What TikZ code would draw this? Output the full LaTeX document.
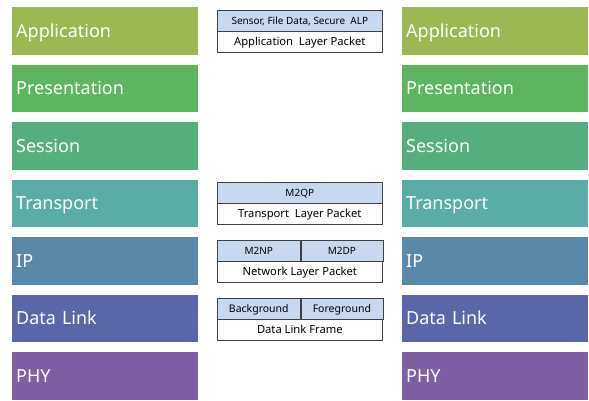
\documentclass[tikz,border=0pt]{standalone}
\usepackage{fontspec}
\setmainfont{Noto Sans}
\usetikzlibrary{positioning}

\definecolor{appcol}{HTML}{9BB852}
\definecolor{prescol}{HTML}{5DB55F}
\definecolor{sesscol}{HTML}{56AD7E}
\definecolor{transcol}{HTML}{5AADA5}
\definecolor{ipcol}{HTML}{5A88A8}
\definecolor{dlcol}{HTML}{5B66A8}
\definecolor{phycol}{HTML}{7E5FA3}
\definecolor{headcol}{HTML}{C8D8F0}
\definecolor{edgecol}{HTML}{404040}

\tikzset{
    layer/.style={rectangle, anchor=north west, minimum width=186pt, minimum height=47.5pt,
        inner sep=4pt, text width=178pt, align=left, text=white,
        text height=12.5pt, text depth=0pt,
        font=\fontsize{18}{18}\selectfont},
    pkthead/.style={rectangle, draw=edgecol, line width=0.6pt, fill=headcol, anchor=north west,
        minimum width=165pt, minimum height=20.5pt, inner sep=0pt,
        text height=7.5pt, text depth=0pt,
        font=\fontsize{10}{10}\selectfont},
    pktbody/.style={pkthead, fill=white, text height=8pt, font=\fontsize{11.2}{11.2}\selectfont}
}

\begin{document}
\begin{tikzpicture}[x=1pt, y=-1pt]
    \useasboundingbox (0,0) rectangle (589,400);

    % left stack
    \node[layer, fill=appcol] (lapp) at (12, 7) {Application};
    \node[layer, fill=prescol] (lpres) at (12, 64.5) {Presentation};
    \node[layer, fill=sesscol] (lsess) at (12, 122) {Session};
    \node[layer, fill=transcol] (ltrans) at (12, 179.5) {Transport};
    \node[layer, fill=ipcol] (lip) at (12, 237) {IP};
    \node[layer, fill=dlcol] (ldl) at (12, 294.5) {Data Link};
    \node[layer, fill=phycol] (lphy) at (12, 352) {PHY};

    % right stack
    \node[layer, fill=appcol] (rapp) at (402, 7) {Application};
    \node[layer, fill=prescol] (rpres) at (402, 64.5) {Presentation};
    \node[layer, fill=sesscol] (rsess) at (402, 122) {Session};
    \node[layer, fill=transcol] (rtrans) at (402, 179.5) {Transport};
    \node[layer, fill=ipcol] (rip) at (402, 237) {IP};
    \node[layer, fill=dlcol] (rdl) at (402, 294.5) {Data Link};
    \node[layer, fill=phycol] (rphy) at (402, 352) {PHY};

    % packets
    \node[pkthead] (alp) at (217, 10) {Sensor, File Data, Secure\ \ ALP};
    \node[pktbody, below=0pt of alp] (alpbody) {Application\ \ Layer Packet};

    \node[pkthead] (m2qp) at (217, 182) {M2QP};
    \node[pktbody, below=0pt of m2qp] (tlpbody) {Transport\ \ Layer Packet};

    \node[pkthead, minimum width=83pt] (m2np) at (217, 240) {M2NP};
    \node[pkthead, minimum width=82pt, right=0pt of m2np] (m2dp) {M2DP};
    \node[pktbody, anchor=north west] (nlpbody) at (m2np.south west) {Network Layer Packet};

    \node[pkthead, minimum width=83pt, font=\fontsize{10.5}{10.5}\selectfont] (bg) at (217, 298) {Background};
    \node[pkthead, minimum width=82pt, font=\fontsize{10.5}{10.5}\selectfont, right=0pt of bg] (fg) {Foreground};
    \node[pktbody, anchor=north west] (dlfbody) at (bg.south west) {Data Link Frame};
\end{tikzpicture}
\end{document}
